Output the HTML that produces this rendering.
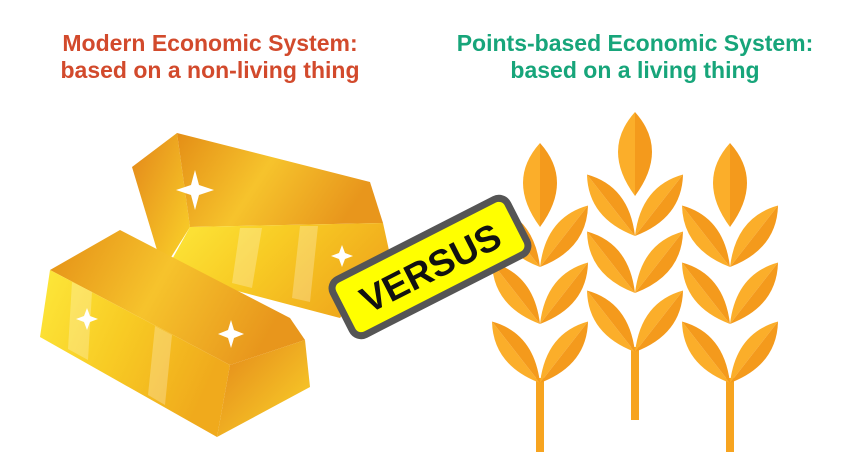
<!DOCTYPE html>
<html><head><meta charset="utf-8"><style>
html,body{margin:0;padding:0;background:#fff;width:845px;height:476px;overflow:hidden}
.t{position:absolute;font-family:"Liberation Sans",sans-serif;font-weight:bold;font-size:23px;text-align:center;line-height:27px}
</style></head><body>
<div class="t" style="left:10px;top:30px;width:400px;color:#d24a2c">Modern Economic System:<br>based on a non-living thing</div>
<div class="t" style="left:425px;top:30px;width:420px;color:#17a57a">Points-based Economic System:<br>based on a living thing</div>
<svg width="845" height="476" style="position:absolute;left:0;top:0">
<defs>
<linearGradient id="top" x1="0" y1="0" x2="1" y2="0.3"><stop offset="0" stop-color="#e48e16"/><stop offset="0.5" stop-color="#f6c32c"/><stop offset="1" stop-color="#e8961c"/></linearGradient>
<linearGradient id="front" x1="0" y1="0" x2="1" y2="0.4"><stop offset="0" stop-color="#fde83a"/><stop offset="0.5" stop-color="#f8cb24"/><stop offset="1" stop-color="#f0aa1c"/></linearGradient>
<linearGradient id="end" x1="0" y1="0" x2="1" y2="1"><stop offset="0" stop-color="#e3861a"/><stop offset="1" stop-color="#fbd52a"/></linearGradient>
</defs>
<g>
<polygon points="132,167 177,133 190,227 163,270" fill="url(#end)"/>
<polygon points="177,133 370,182 383,223 190,227" fill="url(#top)"/>
<polygon points="190,227 383,223 390,255 340,318 165,272" fill="url(#front)"/>
<polygon points="240,228 262,228 252,288 232,283" fill="#fff" opacity="0.25"/>
<polygon points="300,226 318,226 310,302 292,298" fill="#fff" opacity="0.25"/>
</g>
<g>
<polygon points="50,270 120,230 290,318 305,340 230,365" fill="url(#top)"/>
<polygon points="50,270 230,365 217,437 40,337" fill="url(#front)"/>
<polygon points="230,365 305,340 310,387 217,437" fill="url(#end)"/>
<polygon points="72,282 92,292 88,360 68,349" fill="#fff" opacity="0.25"/>
<polygon points="155,326 172,335 165,405 148,395" fill="#fff" opacity="0.25"/>
</g>
<g fill="#fff">
<path d="M195,170 L199,185 L214,190 L199,195 L195,210 L191,195 L176,190 L191,185Z"/>
<path d="M342,245 L345,253 L353,256 L345,259 L342,267 L339,259 L331,256 L339,253Z"/>
<path d="M87,308 L90,316 L98,319 L90,322 L87,330 L84,322 L76,319 L84,316Z"/>
<path d="M231,320 L234,330 L244,334 L234,338 L231,348 L228,338 L218,334 L228,330Z"/>
</g>
<g id="wheat"></g>
<g transform="translate(430,267) rotate(-27)">
<rect x="-98" y="-31" width="196" height="62" rx="10" fill="#ffff00" stroke="#555" stroke-width="7"/>
<text x="0" y="14" text-anchor="middle" font-family="Liberation Sans,sans-serif" font-weight="bold" font-size="37" fill="#111">VERSUS</text>
</g>
</svg>
<script>
const stalkX=[540,635,730];
const stalkTop=[143,112,143];
const stalkBottom=[452,420,452];
const W=document.getElementById('wheat');const NS='http://www.w3.org/2000/svg';
function leaf(x,y,rot,L,w){
 const g=document.createElementNS(NS,'g');g.setAttribute('transform',`translate(${x},${y}) rotate(${rot})`);
 const a=document.createElementNS(NS,'path');a.setAttribute('d',`M0,0 Q${-w},${-L*0.55} 0,${-L} Z`);a.setAttribute('fill','#fbae2a');
 const b=document.createElementNS(NS,'path');b.setAttribute('d',`M0,0 Q${w},${-L*0.55} 0,${-L} Z`);b.setAttribute('fill','#f49a1c');
 g.appendChild(a);g.appendChild(b);return g;}
stalkX.forEach((x,i)=>{
 const top=stalkTop[i],bot=stalkBottom[i];
 const st=document.createElementNS(NS,'rect');
 
 
 st.setAttribute('x',x-4);st.setAttribute('y',top+235);st.setAttribute('width',8);st.setAttribute('height',bot-top-235);st.setAttribute('fill','#f7a420');W.appendChild(st);
 W.appendChild(leaf(x,top+84,0,84,34));
 [124,181,240].forEach(d=>{W.appendChild(leaf(x,top+d,-38,78,26));W.appendChild(leaf(x,top+d,38,78,26));});
});
</script>
</body></html>
